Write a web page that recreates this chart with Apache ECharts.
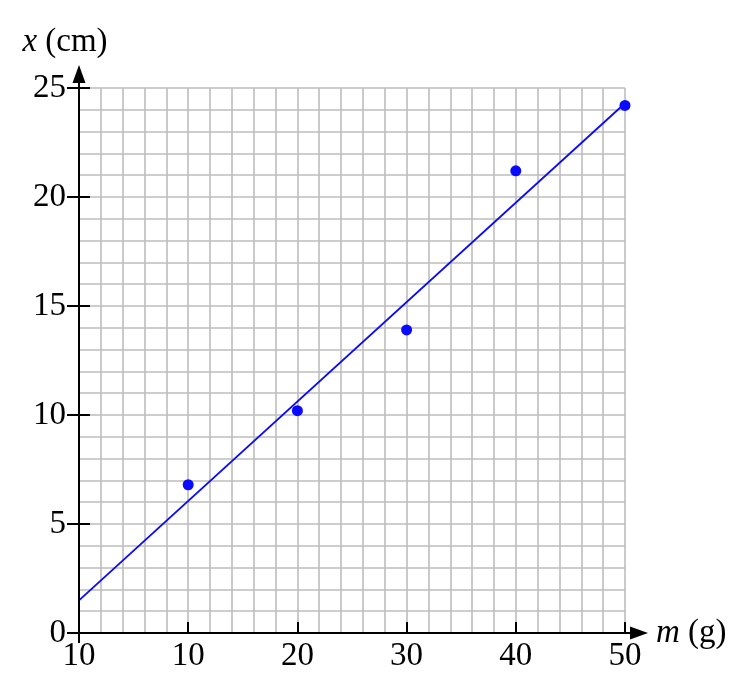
<!DOCTYPE html>
<html>
<head>
<meta charset="utf-8">
<script src="https://cdn.jsdelivr.net/npm/echarts@6/dist/echarts.min.js"></script>
<style>
html,body{margin:0;padding:0;background:#fff;}
#chart{width:750px;height:680px;}
</style>
</head>
<body>
<div id="chart"></div>
<script>
// Data
var massValues = [10, 20, 30, 40, 50];
var extValues = [6.8, 10.2, 13.9, 21.2, 24.2];
var fitLine = [[0, 1.5], [50, 24.3]];
var xTickLabels = ['10', '10', '20', '30', '40', '50'];
var yTickLabels = ['0', '5', '10', '15', '20', '25'];

var FONT = "'Liberation Serif', 'DejaVu Serif', serif";
var FS = 33;
var points = massValues.map(function (m, i) { return [m, extValues[i]]; });

var chart = echarts.init(document.getElementById('chart'), null, {renderer: 'canvas'});

var gridLine = {show: true, lineStyle: {color: '#bdbdbd', width: 1.6}};

var option = {
  backgroundColor: '#fff',
  animation: false,
  grid: {left: 79, right: 125, top: 88, bottom: 47, containLabel: false, outerBoundsMode: 'none'},
  xAxis: [{
    type: 'value', min: 0, max: 50, interval: 10,
    axisLine: {show: false},
    axisTick: {show: true, inside: true, length: 11, lineStyle: {color: '#000', width: 2}},
    axisLabel: {
      margin: 7, color: '#000', fontFamily: FONT, fontSize: FS,
      formatter: function (v) { return xTickLabels[Math.round(v / 10)]; }
    },
    splitLine: gridLine,
    minorTick: {show: false, splitNumber: 5},
    minorSplitLine: gridLine,
    name: '{i|m} (g)',
    nameLocation: 'end',
    nameGap: 31,
    nameTextStyle: {
      color: '#000', fontFamily: FONT, fontSize: FS, align: 'left', verticalAlign: 'middle',
      rich: {i: {fontStyle: 'italic', fontFamily: FONT, fontSize: FS, color: '#000'}}
    }
  }],
  yAxis: [{
    type: 'value', min: 0, max: 25, interval: 5,
    axisLine: {show: false},
    axisTick: {show: true, inside: false, length: 12, lineStyle: {color: '#000', width: 2}},
    axisLabel: {
      margin: 13, color: '#000', fontFamily: FONT, fontSize: FS,
      formatter: function (v) { return yTickLabels[Math.round(v / 5)]; }
    },
    splitLine: gridLine,
    minorTick: {show: false, splitNumber: 5},
    minorSplitLine: gridLine,
    name: '{i|x} (cm)',
    nameLocation: 'end',
    nameGap: 29,
    nameTextStyle: {
      color: '#000', fontFamily: FONT, fontSize: FS, align: 'center', verticalAlign: 'bottom',
      padding: [0, 28, 0, 0],
      rich: {i: {fontStyle: 'italic', fontFamily: FONT, fontSize: FS, color: '#000'}}
    }
  }, {
    type: 'value', min: 0, max: 25, interval: 5, position: 'left',
    axisLine: {show: false},
    axisTick: {show: true, inside: true, length: 11, lineStyle: {color: '#000', width: 2}},
    axisLabel: {show: false},
    splitLine: {show: false}
  }],
  series: [{
    type: 'line',
    data: fitLine,
    showSymbol: false,
    symbol: 'none',
    lineStyle: {color: '#0a0af5', width: 1.8},
    z: 3
  }, {
    type: 'scatter',
    data: points,
    symbolSize: 11,
    itemStyle: {color: '#0a0aff', opacity: 1},
    z: 4
  }]
};

chart.setOption(option);

// Axis lines with arrows, positioned through the chart's own scales
var p0 = chart.convertToPixel({gridIndex: 0}, [0, 0]);
var pX = chart.convertToPixel({gridIndex: 0}, [50, 0]);
var pY = chart.convertToPixel({gridIndex: 0}, [0, 25]);
var axisStyle = {stroke: '#000', lineWidth: 2};
chart.setOption({
  graphic: [
    {type: 'line', z: 50, shape: {x1: p0[0] - 12, y1: p0[1], x2: pX[0] + 7, y2: p0[1]}, style: axisStyle},
    {type: 'polygon', z: 50, shape: {points: [[pX[0] + 5, p0[1] - 6.5], [pX[0] + 23, p0[1]], [pX[0] + 5, p0[1] + 6.5]]}, style: {fill: '#000'}},
    {type: 'line', z: 50, shape: {x1: p0[0], y1: p0[1] + 10, x2: p0[0], y2: pY[1] - 7}, style: axisStyle},
    {type: 'polygon', z: 50, shape: {points: [[p0[0] - 6.5, pY[1] - 5], [p0[0], pY[1] - 23], [p0[0] + 6.5, pY[1] - 5]]}, style: {fill: '#000'}}
  ]
});
</script>
</body>
</html>
